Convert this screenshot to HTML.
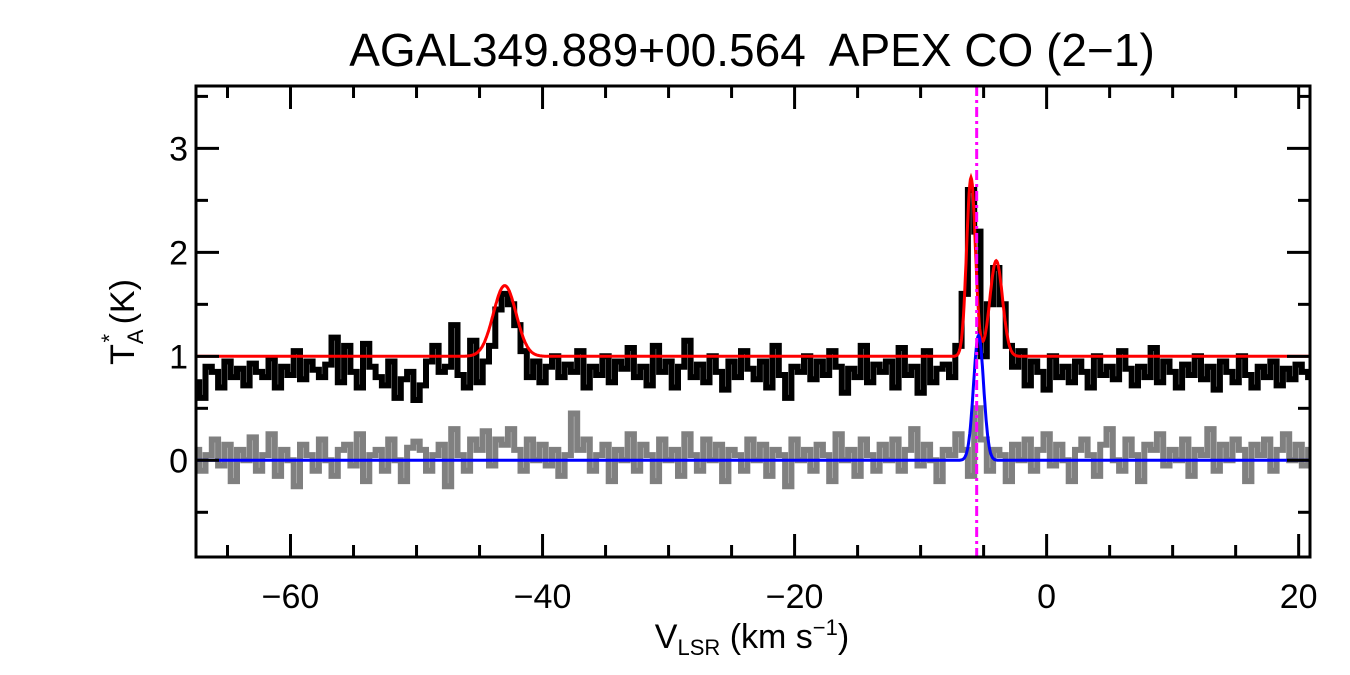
<!DOCTYPE html>
<html><head><meta charset="utf-8"><style>
html,body{margin:0;padding:0;background:#fff;}
svg{display:block;font-family:"Liberation Sans",sans-serif;}
</style></head><body>
<svg id="chart" width="1350" height="675" viewBox="0 0 1350 675">
<text x="752" y="66" font-size="46" text-anchor="middle" xml:space="preserve">AGAL349.889+00.564  APEX CO (2−1)</text>
<g id="plot"></g>
<g id="axes"></g>
<text x="752" y="648" font-size="34" text-anchor="middle">V<tspan font-size="22" dy="7">LSR</tspan><tspan dy="-7"> (km s</tspan><tspan font-size="22" dy="-13">−1</tspan><tspan dy="13">)</tspan></text>
<text transform="translate(134,322) rotate(-90)" font-size="34" text-anchor="middle">T<tspan font-size="22" dy="9">A</tspan><tspan font-size="22" dx="-13" dy="-26">*</tspan><tspan dy="17"> (K)</tspan></text>
</svg>
<script>
const v0 = -67.5, dv = 0.5;
const blackSpec = [0.75,0.6,0.9,0.85,0.7,0.95,0.8,0.88,0.72,0.93,
0.85,0.8,0.98,0.7,0.9,0.82,1.05,0.78,0.95,0.87,
0.8,0.92,1.18,0.75,1.1,0.85,0.7,1.12,0.9,0.8,
0.72,0.95,0.6,0.78,0.85,0.58,0.72,0.95,1.1,0.85,
0.9,1.3,0.82,0.7,1.15,0.75,0.95,1.1,1.45,1.6,
1.5,1.3,1.05,0.8,0.95,0.75,0.9,1.0,0.8,0.92,
0.85,1.05,0.7,0.9,0.82,1.0,0.75,0.95,0.88,1.08,
0.8,0.9,0.72,1.1,0.85,0.95,0.7,0.9,1.15,0.8,
0.92,0.75,1.0,0.85,0.68,0.95,0.8,1.05,0.88,0.78,
0.95,0.7,1.1,0.82,0.6,0.9,0.85,1.0,0.78,0.95,
0.82,1.05,0.9,0.65,0.88,0.8,1.1,0.75,0.92,0.85,
0.95,0.7,1.08,0.82,0.9,0.65,1.05,0.75,0.88,0.92,
0.8,1.1,1.6,2.6,2.2,1.0,1.5,1.85,1.5,1.1,
0.9,1.05,0.72,0.95,0.85,0.68,1.0,0.8,0.9,0.75,
0.95,0.85,0.7,1.0,0.82,0.9,0.78,1.05,0.88,0.72,
0.9,0.8,1.08,0.75,0.95,0.85,0.7,0.92,0.82,1.0,
0.78,0.9,0.68,0.95,0.85,0.75,1.0,0.82,0.7,0.9,
0.8,0.95,0.72,0.88,0.78,0.92,0.85,0.8];
const graySpec = [0.1,-0.1,0.05,0.2,-0.05,0.15,-0.2,0.1,0.0,0.22,
-0.1,0.05,0.25,-0.15,0.1,0.0,-0.25,0.15,0.05,-0.1,
0.2,0.0,-0.15,0.1,0.15,-0.05,0.25,-0.2,0.05,0.1,
-0.1,0.2,0.0,-0.2,0.12,0.18,0.1,-0.1,0.05,0.15,
-0.25,0.3,0.05,-0.1,0.2,0.1,0.28,-0.05,0.2,0.15,
0.3,0.1,-0.1,0.2,0.0,0.15,-0.05,0.1,-0.15,0.05,
0.45,0.1,0.2,-0.1,0.05,0.15,-0.2,0.1,0.0,0.25,
-0.1,0.15,0.05,-0.2,0.2,0.0,0.1,-0.15,0.25,0.05,
-0.1,0.2,0.0,0.15,-0.2,0.1,0.05,-0.1,0.2,0.0,
0.15,-0.15,0.1,0.05,-0.25,0.2,0.0,0.1,-0.1,0.15,
0.05,-0.2,0.25,0.0,0.1,-0.15,0.2,0.05,-0.1,0.15,
0.0,0.2,-0.1,0.1,0.3,-0.05,0.15,0.0,-0.2,0.1,
0.05,0.25,0.1,-0.15,0.5,0.2,-0.1,0.1,0.05,-0.2,
0.15,0.0,0.2,-0.1,0.1,0.25,-0.05,0.15,0.0,-0.2,
0.1,0.2,0.05,-0.15,0.15,0.3,0.0,-0.1,0.2,0.05,
-0.2,0.15,0.1,0.25,-0.05,0.1,0.0,0.2,-0.15,0.1,
0.05,0.3,-0.1,0.15,0.0,0.2,0.1,-0.2,0.15,0.05,
0.2,-0.1,0.1,0.25,0.0,0.15,-0.05,0.1];
// Gaussian fit components: [center, amplitude, sigma]
const redBaseline = 1.0;
const redComps = [[-43.0,0.68,0.9],[-6.0,1.72,0.35],[-4.0,0.92,0.5]];
const blueBaseline = 0.0;
const blueComps = [[-5.4,1.2,0.4]];
const vMarker = -5.55;
const xTicks = [-60,-40,-20,0,20];
const yTicks = [0,1,2,3];

const L=196,R=1310,T=86,B=557, xmin=-67.5,xmax=20.9,ymin=-0.93,ymax=3.6;
const X=v=>L+(v-xmin)/(xmax-xmin)*(R-L);
const Y=t=>B-(t-ymin)/(ymax-ymin)*(B-T);
const NS='http://www.w3.org/2000/svg';
const plot=document.getElementById('plot'), axes=document.getElementById('axes');
function mk(tag,attrs,parent){const e=document.createElementNS(NS,tag);for(const k in attrs)e.setAttribute(k,attrs[k]);parent.appendChild(e);return e;}
const cp=mk('clipPath',{id:'clip'},plot);mk('rect',{x:L,y:T,width:R-L,height:B-T},cp);
function stepPath(arr){let d='';arr.forEach((t,i)=>{const v=v0+i*dv;const xa=X(Math.max(xmin,v-dv/2)),xb=X(v+dv/2),y=Y(t);d+=(i?'L':'M')+xa.toFixed(1)+','+y.toFixed(1)+'L'+xb.toFixed(1)+','+y.toFixed(1);});return d;}
function fitPath(base,comps){let d='';for(let v=xmin;v<=xmax+0.05;v+=0.05){let t=base;comps.forEach(c=>{t+=c[1]*Math.exp(-0.5*((v-c[0])/c[2])**2);});d+=(d?'L':'M')+X(v).toFixed(1)+','+Y(t).toFixed(1);}return d;}
const g1=mk('path',{d:stepPath(graySpec),fill:'none',stroke:'#808080','stroke-width':6,'clip-path':'url(#clip)'},plot);


const b1=mk('path',{d:stepPath(blackSpec),fill:'none',stroke:'#000','stroke-width':6,'clip-path':'url(#clip)'},plot);


const r1=mk('path',{d:fitPath(redBaseline,redComps),fill:'none',stroke:'#ff0000','stroke-width':3,'clip-path':'url(#clip)'},plot);


const bl=mk('path',{d:fitPath(blueBaseline,blueComps),fill:'none',stroke:'#0000ff','stroke-width':3,'clip-path':'url(#clip)'},plot);


const vm=mk('line',{x1:X(vMarker),x2:X(vMarker),y1:T,y2:B,stroke:'#ff00ff','stroke-width':3,'stroke-dasharray':'10,4,3,4'},plot);


const fr=mk('rect',{x:L,y:T,width:R-L,height:B-T,fill:'none',stroke:'#000','stroke-width':3},axes);


for(let v=-65;v<=20;v+=5){const maj=xTicks.includes(v);const len=maj?23:12;
 mk('line',{x1:X(v),x2:X(v),y1:B,y2:B-len,stroke:'#000','stroke-width':3},axes);
 mk('line',{x1:X(v),x2:X(v),y1:T,y2:T+len,stroke:'#000','stroke-width':3},axes);}
xTicks.forEach(v=>{const t=mk('text',{x:X(v),y:608,'font-size':34,'text-anchor':'middle'},axes);t.textContent=(v<0?'−':'')+Math.abs(v);
 
 });
for(let t=-0.5;t<=3.5;t+=0.5){const maj=yTicks.includes(t);const len=maj?23:12;
 mk('line',{x1:L,x2:L+len,y1:Y(t),y2:Y(t),stroke:'#000','stroke-width':3},axes);
 mk('line',{x1:R,x2:R-len,y1:Y(t),y2:Y(t),stroke:'#000','stroke-width':3},axes);}
yTicks.forEach(t=>{const e=mk('text',{x:188,y:Y(t)+12,'font-size':34,'text-anchor':'end'},axes);e.textContent=t;
 
 });
</script>
</body></html>
